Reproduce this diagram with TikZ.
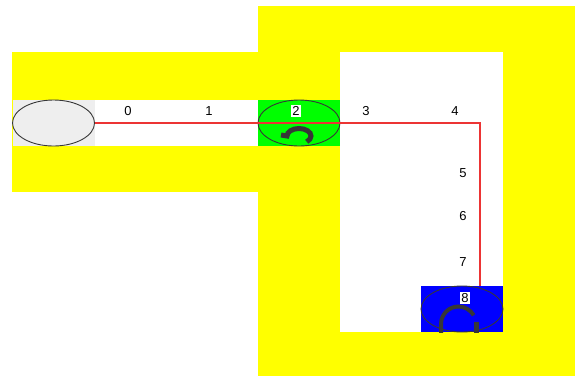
\documentclass[tikz,border=0pt]{standalone}
\usepackage{fontspec}
\setmainfont{Liberation Sans}
\usetikzlibrary{shapes.geometric}
\definecolor{wallyellow}{RGB}{255,255,0}
\definecolor{startgrey}{RGB}{238,238,238}
\definecolor{cellgreen}{RGB}{0,255,0}
\definecolor{cellblue}{RGB}{0,0,255}
\definecolor{pathred}{RGB}{236,52,52}
\definecolor{inkgrey}{RGB}{55,55,55}
\begin{document}
\begin{tikzpicture}[x=1pt, y=-1pt,
    cell/.style={rectangle, minimum width=82pt, minimum height=46pt, inner sep=0pt},
    oval/.style={ellipse, draw=inkgrey, line width=0.9pt, minimum width=82pt, minimum height=46pt, inner sep=0pt},
    glyph/.style={draw=inkgrey, line width=5pt},
    steplabel/.style={font=\fontsize{13}{13}\selectfont, inner sep=1pt},
    marked/.style={steplabel, fill=white}]
    \useasboundingbox (0,0) rectangle (585,376);
    % Walls
    \fill[wallyellow] (12,52) rectangle (258,192);
    \fill[wallyellow] (258,6) rectangle (575,376);
    % Free space
    \fill[white] (95,100) rectangle (258,146);
    \fill[white] (340,52) rectangle (503,332);

    % Start cell
    \node[cell, fill=startgrey] (startcell) at (53.5,123) {};
    \node[oval, fill=startgrey] (start) at (53.5,123) {};

    % Middle cell
    \node[cell, fill=cellgreen] (midcell) at (299,123) {};
    \node[oval] (mid) at (299,123) {};
    \begin{scope}
        \clip (midcell.south west) rectangle (midcell.north east);
        \draw[glyph] (281,135) -- (287,136) arc[start angle=180, end angle=410, x radius=12, y radius=7.5];
    \end{scope}

    % Goal cell
    \node[cell, fill=cellblue] (goalcell) at (462,309) {};
    \node[oval] (goal) at (462,309) {};
    \begin{scope}
        \clip (goalcell.south west) rectangle (goalcell.north east);
        \draw[glyph, line width=4pt] (441,334) -- (441,324) arc[start angle=180, end angle=330, radius=17.5];
        \draw[glyph] (476,334) -- (476,322);
    \end{scope}

    % Route
    \coordinate (turn) at (480,123);
    \draw[pathred, line width=1.4pt] (start.east) -- (turn) -- (turn |- goalcell.north);

    % Step numbers
    \node[steplabel] (s0) at (128,111) {0};
    \node[steplabel] (s1) at (209,111) {1};
    \node[marked] (s2) at (296,111) {2};
    \node[steplabel] (s3) at (366,111) {3};
    \node[steplabel] (s4) at (455,111) {4};
    \node[steplabel] (s5) at (463,173) {5};
    \node[steplabel] (s6) at (463,216) {6};
    \node[steplabel] (s7) at (463,262) {7};
    \node[marked] (s8) at (465,298) {8};
\end{tikzpicture}
\end{document}
